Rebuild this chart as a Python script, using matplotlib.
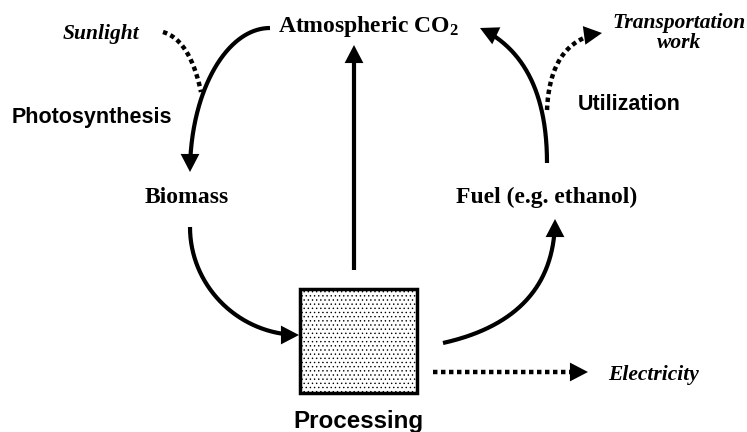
import numpy as np
import matplotlib.pyplot as plt
from matplotlib.patches import Rectangle
from math import comb

# labels of the cycle
node_labels = ["Atmospheric CO$_2$", "Biomass", "Fuel (e.g. ethanol)"]
process_labels = ["Photosynthesis", "Utilization", "Processing"]
side_labels = ["Sunlight", "Transportation\nwork", "Electricity"]

plt.rcParams['mathtext.fontset'] = 'custom'
plt.rcParams['mathtext.rm'] = 'Liberation Serif:bold'
plt.rcParams['mathtext.it'] = 'Liberation Serif:bold'
plt.rcParams['mathtext.bf'] = 'Liberation Serif:bold'
plt.rcParams['hatch.linewidth'] = 0.5

fig = plt.figure(figsize=(7.47, 4.32), dpi=100)
ax = fig.add_axes([0, 0, 1, 1])
ax.set_xlim(0, 747)
ax.set_ylim(432, 0)
ax.axis('off')

HEAD = 18  # arrow head length in px


def bezier(pts, n=200):
    pts = np.asarray(pts, float)
    k = len(pts) - 1
    t = np.linspace(0, 1, n)[:, None]
    return sum(comb(k, i) * t**i * (1 - t)**(k - i) * pts[i] for i in range(k + 1))


def curve(pts, dotted=False, head=True):
    xy = bezier(pts)
    tip = np.asarray(pts[-1], float)
    if head:
        d = np.hypot(*(xy - tip).T)
        xy = xy[d > HEAD * 0.7]
        tan = tip - np.asarray(pts[-2], float)
        tan = tan / np.hypot(*tan)
        ax.annotate('', xy=tip, xytext=tip - tan * HEAD,
                    arrowprops=dict(arrowstyle='-|>,head_length=1.0,head_width=0.52',
                                    mutation_scale=13, color='black', lw=0,
                                    shrinkA=0, shrinkB=0))
    if dotted:
        ax.plot(xy[:, 0], xy[:, 1], color='black', lw=3.2,
                linestyle=(0, (1, 0.8)), dash_capstyle='butt')
    else:
        ax.plot(xy[:, 0], xy[:, 1], color='black', lw=3, solid_capstyle='butt')


k = 0.55
# CO2 -> biomass (photosynthesis)
curve([(270, 28), (270 - k * 80, 28), (190, 172 - k * 144), (190, 172)])
# sunlight
curve([(163, 32), (190, 40), (201, 92)], dotted=True, head=False)
# biomass -> processing
curve([(190, 227), (190, 227 + k * 108), (299 - k * 109, 335), (299, 335)])
# processing -> CO2
curve([(354, 270), (354, 45)])
# processing -> fuel
curve([(443, 343), (555, 318), (555, 219)])
# fuel -> CO2
curve([(547, 163), (547, 60), (480, 28)])
# utilization -> transportation work
curve([(547, 110), (550, 40), (602, 33)], dotted=True)
# electricity
curve([(433, 372), (588, 372)], dotted=True)

# processing box
ax.add_patch(Rectangle((300, 289), 117, 104, facecolor='white', edgecolor='black',
                       lw=2.5, hatch='....'))

serif = dict(family='Liberation Serif', weight='bold', size=17, color='black')
italic = dict(family='Liberation Serif', weight='bold', style='italic', size=15.5,
              color='black')
sans = dict(family='Liberation Sans', weight='bold', size=15.5, color='black')

ax.text(369, 32, node_labels[0], ha='center', va='baseline', **serif)
ax.text(187, 203, node_labels[1], ha='center', va='baseline', **serif)
ax.text(547, 203, node_labels[2], ha='center', va='baseline', **serif)

ax.text(12, 123, process_labels[0], ha='left', va='baseline', **sans)
ax.text(578, 110, process_labels[1], ha='left', va='baseline', **sans)
ax.text(358, 428, process_labels[2], ha='center', va='baseline',
        family='Liberation Sans', weight='bold', size=17.4)

ax.text(101, 39, side_labels[0], ha='center', va='baseline', **italic)
ax.text(679, 28, side_labels[1].split('\n')[0], ha='center', va='baseline', **italic)
ax.text(679, 48, side_labels[1].split('\n')[1], ha='center', va='baseline', **italic)
ax.text(608, 380, side_labels[2], ha='left', va='baseline', **italic)

fig.savefig('out.png', dpi=100)
